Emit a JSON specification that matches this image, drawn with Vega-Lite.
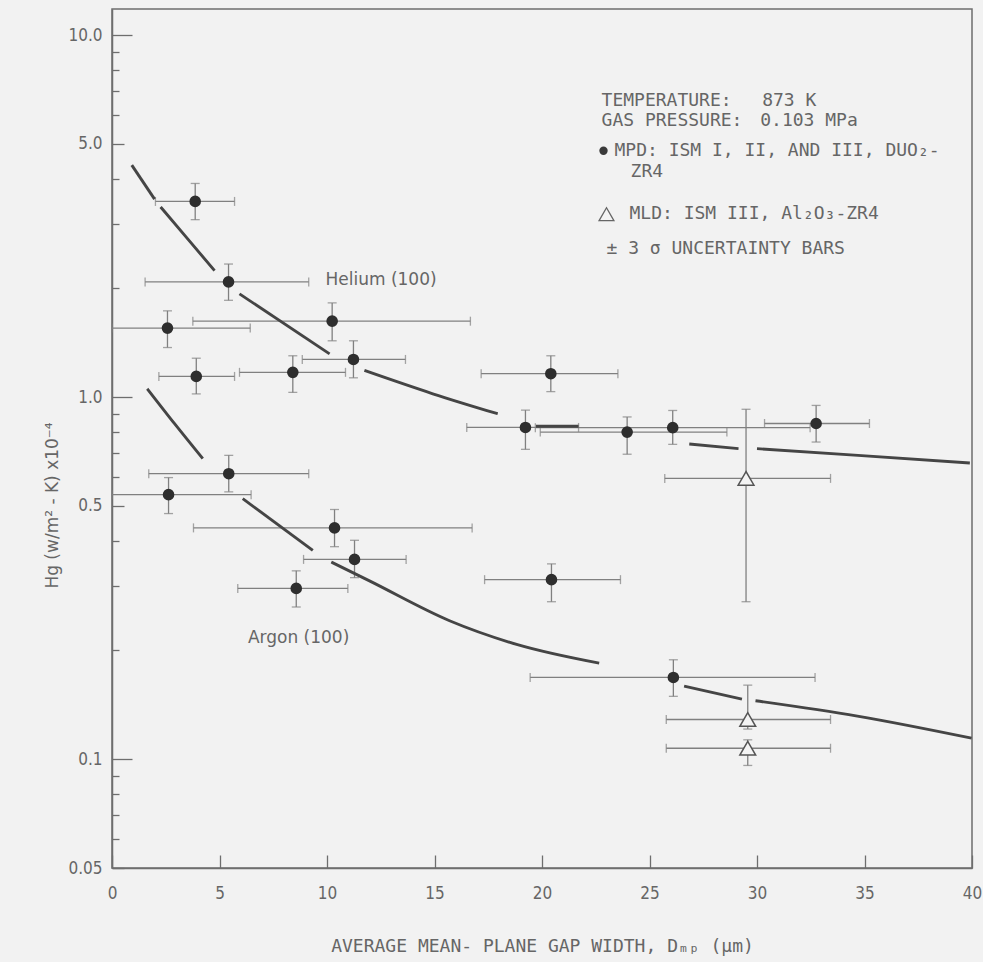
{
  "$schema": "https://vega.github.io/schema/vega-lite/v6.json",
  "width": 860,
  "height": 859,
  "autosize": {"type": "none"},
  "padding": {"left": 112, "top": 9, "right": 11, "bottom": 94},
  "background": "#f2f2f2",
  "config": {
    "view": {"stroke": "#6e6e6e", "strokeWidth": 1.5},
    "axis": {"labelFont": "DejaVu Sans Condensed", "titleFont": "DejaVu Sans Mono"},
    "text": {"font": "DejaVu Sans Mono"}
  },
  "datasets": {
    "pts": [
      {"type": "MPD", "x": 3.87, "y": 3.47, "xlo": 2.02, "xhi": 5.70, "ylo": 3.09, "yhi": 3.89},
      {"type": "MPD", "x": 5.42, "y": 2.08, "xlo": 1.54, "xhi": 9.15, "ylo": 1.85, "yhi": 2.33},
      {"type": "MPD", "x": 2.58, "y": 1.55, "xlo": 0, "xhi": 6.43, "ylo": 1.37, "yhi": 1.73},
      {"type": "MPD", "x": 10.24, "y": 1.62, "xlo": 3.76, "xhi": 16.67, "ylo": 1.43, "yhi": 1.82},
      {"type": "MPD", "x": 11.23, "y": 1.27, "xlo": 8.85, "xhi": 13.65, "ylo": 1.13, "yhi": 1.43},
      {"type": "MPD", "x": 3.92, "y": 1.14, "xlo": 2.18, "xhi": 5.70, "ylo": 1.02, "yhi": 1.28},
      {"type": "MPD", "x": 8.41, "y": 1.17, "xlo": 5.93, "xhi": 10.86, "ylo": 1.03, "yhi": 1.30},
      {"type": "MPD", "x": 20.41, "y": 1.16, "xlo": 17.17, "xhi": 23.53, "ylo": 1.035, "yhi": 1.30},
      {"type": "MPD", "x": 19.23, "y": 0.824, "xlo": 16.50, "xhi": 21.70, "ylo": 0.717, "yhi": 0.92},
      {"type": "MPD", "x": 23.96, "y": 0.80, "xlo": 19.92, "xhi": 28.60, "ylo": 0.695, "yhi": 0.881},
      {"type": "MPD", "x": 26.08, "y": 0.823, "xlo": 19.69, "xhi": 32.47, "ylo": 0.740, "yhi": 0.918},
      {"type": "MPD", "x": 32.75, "y": 0.845, "xlo": 30.35, "xhi": 35.23, "ylo": 0.751, "yhi": 0.948},
      {"type": "MPD", "x": 5.43, "y": 0.614, "xlo": 1.71, "xhi": 9.15, "ylo": 0.547, "yhi": 0.690},
      {"type": "MPD", "x": 2.63, "y": 0.5375, "xlo": 0, "xhi": 6.47, "ylo": 0.4765, "yhi": 0.599},
      {"type": "MPD", "x": 10.35, "y": 0.435, "xlo": 3.79, "xhi": 16.75, "ylo": 0.386, "yhi": 0.489},
      {"type": "MPD", "x": 11.28, "y": 0.356, "xlo": 8.91, "xhi": 13.68, "ylo": 0.317, "yhi": 0.402},
      {"type": "MPD", "x": 8.57, "y": 0.296, "xlo": 5.85, "xhi": 10.97, "ylo": 0.263, "yhi": 0.331},
      {"type": "MPD", "x": 20.44, "y": 0.313, "xlo": 17.33, "xhi": 23.65, "ylo": 0.272, "yhi": 0.346},
      {"type": "MPD", "x": 26.11, "y": 0.168, "xlo": 19.45, "xhi": 32.70, "ylo": 0.149, "yhi": 0.188},
      {"type": "MLD", "x": 29.49, "y": 0.596, "xlo": 25.71, "xhi": 33.42, "ylo": 0.272, "yhi": 0.925},
      {"type": "MLD", "x": 29.57, "y": 0.1286, "xlo": 25.78, "xhi": 33.42, "ylo": 0.121, "yhi": 0.160},
      {"type": "MLD", "x": 29.57, "y": 0.1071, "xlo": 25.78, "xhi": 33.42, "ylo": 0.096, "yhi": 0.113}
    ],
    "curves": [
      {"gas": "Helium", "seg": "h1", "x": 0.92, "y": 4.37},
      {"gas": "Helium", "seg": "h1", "x": 1.98, "y": 3.52},
      {"gas": "Helium", "seg": "h2", "x": 2.26, "y": 3.35},
      {"gas": "Helium", "seg": "h2", "x": 3.53, "y": 2.73},
      {"gas": "Helium", "seg": "h2", "x": 4.77, "y": 2.235},
      {"gas": "Helium", "seg": "h3", "x": 5.93, "y": 1.927},
      {"gas": "Helium", "seg": "h3", "x": 10.12, "y": 1.316},
      {"gas": "Helium", "seg": "h4", "x": 11.74, "y": 1.184},
      {"gas": "Helium", "seg": "h4", "x": 14.92, "y": 1.021},
      {"gas": "Helium", "seg": "h4", "x": 17.94, "y": 0.899},
      {"gas": "Helium", "seg": "h5", "x": 19.72, "y": 0.83},
      {"gas": "Helium", "seg": "h5", "x": 21.70, "y": 0.83},
      {"gas": "Helium", "seg": "h6", "x": 26.85, "y": 0.742},
      {"gas": "Helium", "seg": "h6", "x": 29.14, "y": 0.72},
      {"gas": "Helium", "seg": "h7", "x": 30.0, "y": 0.72},
      {"gas": "Helium", "seg": "h7", "x": 34.7, "y": 0.69},
      {"gas": "Helium", "seg": "h7", "x": 39.9, "y": 0.657},
      {"gas": "Argon", "seg": "a1", "x": 1.64, "y": 1.054},
      {"gas": "Argon", "seg": "a1", "x": 2.91, "y": 0.844},
      {"gas": "Argon", "seg": "a1", "x": 4.22, "y": 0.676},
      {"gas": "Argon", "seg": "a2", "x": 6.08, "y": 0.524},
      {"gas": "Argon", "seg": "a2", "x": 9.34, "y": 0.377},
      {"gas": "Argon", "seg": "a3", "x": 10.2, "y": 0.350},
      {"gas": "Argon", "seg": "a3", "x": 12.0, "y": 0.31},
      {"gas": "Argon", "seg": "a3", "x": 15.7, "y": 0.241},
      {"gas": "Argon", "seg": "a3", "x": 18.86, "y": 0.207},
      {"gas": "Argon", "seg": "a3", "x": 22.66, "y": 0.184},
      {"gas": "Argon", "seg": "a4", "x": 26.61, "y": 0.159},
      {"gas": "Argon", "seg": "a4", "x": 29.3, "y": 0.1464},
      {"gas": "Argon", "seg": "a5", "x": 29.93, "y": 0.1449},
      {"gas": "Argon", "seg": "a5", "x": 34.67, "y": 0.1314},
      {"gas": "Argon", "seg": "a5", "x": 39.98, "y": 0.1142}
    ],
    "ann": [
      {"x": 22.77, "y": 6.59, "t": "TEMPERATURE:"},
      {"x": 30.24, "y": 6.59, "t": "873 K"},
      {"x": 22.77, "y": 5.79, "t": "GAS PRESSURE:"},
      {"x": 30.15, "y": 5.79, "t": "0.103 MPa"},
      {"x": 23.37, "y": 4.79, "t": "MPD: ISM I, II, AND III, DUO₂-"},
      {"x": 24.12, "y": 4.18, "t": "ZR4"},
      {"x": 24.07, "y": 3.2, "t": "MLD: ISM III, Al₂O₃-ZR4"},
      {"x": 23.0, "y": 2.57, "t": "± 3 σ UNCERTAINTY BARS"}
    ],
    "lbl": [
      {"x": 9.93, "y": 2.1, "t": "Helium (100)"},
      {"x": 6.32, "y": 0.2154, "t": "Argon (100)"}
    ],
    "sym": [
      {"kind": "MPD", "x": 22.86, "y": 4.79},
      {"kind": "MLD", "x": 23.0, "y": 3.2}
    ]
  },
  "layer": [
    {
      "data": {"name": "pts"},
      "mark": {"type": "errorbar", "ticks": {"size": 9}, "color": "#808080", "thickness": 1.3},
      "encoding": {
        "x": {
          "field": "xlo", "type": "quantitative",
          "scale": {"domain": [0, 40], "nice": false, "zero": false},
          "axis": {
            "values": [0, 5, 10, 15, 20, 25, 30, 35, 40],
            "grid": false, "tickSize": -13, "labelPadding": 30, "labelFlush": false,
            "domainColor": "#6e6e6e", "domainWidth": 1.5, "tickColor": "#6e6e6e", "tickWidth": 1.3,
            "labelColor": "#666666", "labelFontSize": 17,
            "title": "AVERAGE MEAN- PLANE GAP WIDTH, Dₘₚ (μm)",
            "titleFontSize": 18, "titleFontWeight": "normal", "titleColor": "#666666",
            "titleY": 83, "titleBaseline": "alphabetic"
          }
        },
        "x2": {"field": "xhi"},
        "y": {
          "field": "y", "type": "quantitative",
          "scale": {"type": "log", "domain": [0.05, 11.8], "nice": false},
          "title": "Hg (w/m² - K) x10⁻⁴",
          "axis": {
            "values": [0.05, 0.06, 0.07, 0.08, 0.09, 0.1, 0.2, 0.3, 0.4, 0.5, 0.6, 0.7, 0.8, 0.9, 1, 2, 3, 4, 5, 6, 7, 8, 9, 10],
            "labelExpr": "datum.value == 0.05 ? '0.05' : datum.value == 0.1 ? '0.1' : (datum.value == 0.5 || datum.value == 1 || datum.value == 5 || datum.value == 10) ? format(datum.value, '.1f') : ''",
            "grid": false,
            "tickSize": {"condition": [
              {"test": "datum.value == 10 || datum.value == 1 || datum.value == 0.1", "value": -20},
              {"test": "datum.value == 5 || datum.value == 0.5 || datum.value == 0.05", "value": -12}
            ], "value": -7},
            "labelPadding": {"condition": [
              {"test": "datum.value == 10 || datum.value == 1 || datum.value == 0.1", "value": 30},
              {"test": "datum.value == 5 || datum.value == 0.5 || datum.value == 0.05", "value": 22}
            ], "value": 17},
            "domainColor": "#6e6e6e", "domainWidth": 1.5, "tickColor": "#6e6e6e", "tickWidth": 1.3,
            "labelColor": "#666666", "labelFontSize": 17,
            "titleFont": "DejaVu Sans",
            "titleFontSize": 17, "titleFontWeight": "normal", "titleColor": "#666666",
            "titleX": -60, "titleY": 496, "titleAlign": "center", "titleBaseline": "middle", "titleAngle": -90
          }
        }
      }
    },
    {
      "data": {"name": "pts"},
      "mark": {"type": "errorbar", "ticks": {"size": 9}, "color": "#808080", "thickness": 1.3},
      "encoding": {
        "x": {"field": "x", "type": "quantitative", "title": "AVERAGE MEAN- PLANE GAP WIDTH, Dₘₚ (μm)"},
        "y": {"field": "ylo", "type": "quantitative", "title": "Hg (w/m² - K) x10⁻⁴"},
        "y2": {"field": "yhi"}
      }
    },
    {
      "data": {"name": "curves"},
      "mark": {"type": "line", "color": "#454545", "strokeWidth": 2.9, "interpolate": "monotone"},
      "encoding": {
        "x": {"field": "x", "type": "quantitative"},
        "y": {"field": "y", "type": "quantitative"},
        "detail": {"field": "seg"}
      }
    },
    {
      "data": {"name": "pts"},
      "transform": [{"filter": "datum.type == 'MPD'"}],
      "mark": {"type": "point", "shape": "circle", "filled": true, "size": 135, "color": "#2e2e2e", "opacity": 1},
      "encoding": {
        "x": {"field": "x", "type": "quantitative"},
        "y": {"field": "y", "type": "quantitative"}
      }
    },
    {
      "data": {"name": "pts"},
      "transform": [{"filter": "datum.type == 'MLD'"}],
      "mark": {"type": "point", "shape": "triangle-up", "filled": true, "size": 250, "fill": "#f4f4f4", "stroke": "#555555", "strokeWidth": 1.5, "opacity": 1},
      "encoding": {
        "x": {"field": "x", "type": "quantitative"},
        "y": {"field": "y", "type": "quantitative"}
      }
    },
    {
      "data": {"name": "sym"},
      "transform": [{"filter": "datum.kind == 'MPD'"}],
      "mark": {"type": "point", "shape": "circle", "filled": true, "size": 70, "color": "#3a3a3a", "opacity": 1},
      "encoding": {
        "x": {"field": "x", "type": "quantitative"},
        "y": {"field": "y", "type": "quantitative"}
      }
    },
    {
      "data": {"name": "sym"},
      "transform": [{"filter": "datum.kind == 'MLD'"}],
      "mark": {"type": "point", "shape": "triangle-up", "filled": true, "size": 220, "fill": "#f4f4f4", "stroke": "#666666", "strokeWidth": 1.3, "opacity": 1},
      "encoding": {
        "x": {"field": "x", "type": "quantitative"},
        "y": {"field": "y", "type": "quantitative"}
      }
    },
    {
      "data": {"name": "ann"},
      "mark": {"type": "text", "align": "left", "baseline": "middle", "fontSize": 18, "color": "#666666"},
      "encoding": {
        "x": {"field": "x", "type": "quantitative"},
        "y": {"field": "y", "type": "quantitative"},
        "text": {"field": "t"}
      }
    },
    {
      "data": {"name": "lbl"},
      "mark": {"type": "text", "align": "left", "baseline": "middle", "fontSize": 17, "font": "DejaVu Sans", "color": "#666666"},
      "encoding": {
        "x": {"field": "x", "type": "quantitative"},
        "y": {"field": "y", "type": "quantitative"},
        "text": {"field": "t"}
      }
    }
  ]
}
